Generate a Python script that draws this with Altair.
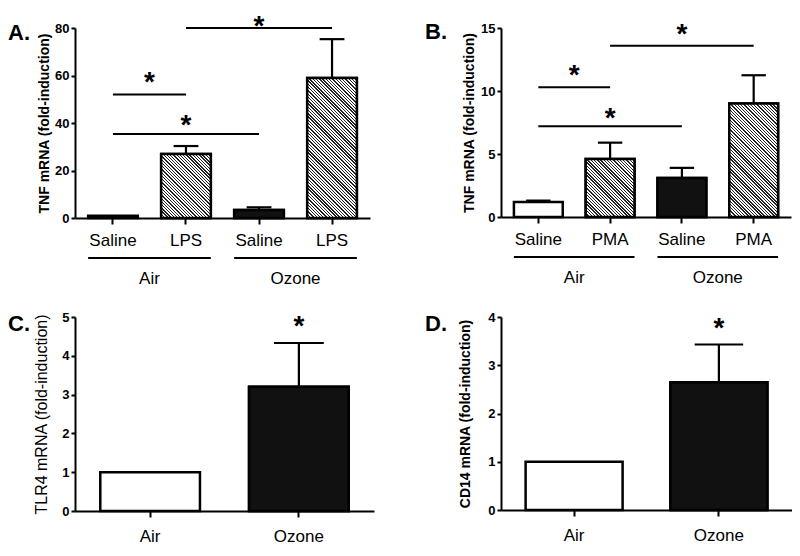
import math
import altair as alt
import pandas as pd

FONT = "Liberation Sans"

# ---------------- data ----------------
# Panel A
a_groups = ["Air", "Air", "Ozone", "Ozone"]
a_treats = ["Saline", "LPS", "Saline", "LPS"]
a_values = [1.0, 26.9, 3.4, 59.0]
a_errors = [0.0, 3.4, 1.1, 16.3]
a_fills = ["white", "hatch", "black", "hatch"]
a_sig_from = ["Air Saline", "Air Saline", "Air LPS"]
a_sig_to = ["Air LPS", "Ozone Saline", "Ozone LPS"]
a_sig_y = [52.0, 35.4, 80.0]
a_star_y = [60.1, 41.9, 83.8]
a_ticks = [0, 20, 40, 60, 80]

# Panel B
b_groups = ["Air", "Air", "Ozone", "Ozone"]
b_treats = ["Saline", "PMA", "Saline", "PMA"]
b_values = [1.2, 4.6, 3.1, 9.0]
b_errors = [0.1, 1.3, 0.8, 2.25]
b_fills = ["white", "hatch", "black", "hatch"]
b_sig_from = ["Air Saline", "Air Saline", "Air PMA"]
b_sig_to = ["Air PMA", "Ozone Saline", "Ozone PMA"]
b_sig_y = [10.3, 7.2, 13.6]
b_star_y = [11.85, 8.45, 15.1]
b_ticks = [0, 5, 10, 15]

# Panel C
c_cats = ["Air", "Ozone"]
c_values = [1.0, 3.2]
c_errors = [0.0, 1.13]
c_fills = ["white", "black"]
c_star_cat = ["Ozone"]
c_star_y = [4.95]
c_ticks = [0, 1, 2, 3, 4, 5]

# Panel D
d_cats = ["Air", "Ozone"]
d_values = [1.0, 2.65]
d_errors = [0.0, 0.78]
d_fills = ["white", "black"]
d_star_cat = ["Ozone"]
d_star_y = [3.92]
d_ticks = [0, 1, 2, 3, 4]


def hatch_gradient(w, h, period=2.3, dark_frac=0.42, dark="#222222", light="#ffffff"):
    """Diagonal (\\) stripes via a linear gradient in bounding-box units."""
    s = (w + h) / (w * w + h * h)
    beta = h * s
    a = w * s
    n = max(1, int(round((w + h) / math.sqrt(2) / period)))
    stops = []
    for k in range(n):
        o0 = k / n
        o1 = (k + dark_frac) / n
        o2 = (k + 1) / n
        stops += [
            alt.GradientStop(color=dark, offset=round(o0, 5)),
            alt.GradientStop(color=dark, offset=round(o1, 5)),
            alt.GradientStop(color=light, offset=round(o1, 5)),
            alt.GradientStop(color=light, offset=round(o2, 5)),
        ]
    return alt.LinearGradient(gradient="linear", stops=stops, x1=0, y1=1, x2=a, y2=1 - beta)


def panel(letter, letter_x, letter_y, cats, labels_expr, values, errors, fills,
          ymax, yticks, ytitle, title_size, title_weight, title_pad,
          W, H, pi, po, xlabel_pad,
          sig_from=(), sig_to=(), sig_y=(), star_x=(), star_y=(),
          groups=None, star_size=28):
    n = len(cats)
    step = W / (n - pi + 2 * po)
    bw = step * (1 - pi)
    c0 = po + (1 - pi) / 2
    band = alt.Scale(domain=cats, paddingInner=pi, paddingOuter=po)
    lin = alt.Scale(domain=[-c0, n - 1 + c0], nice=False, zero=False)
    ysc = alt.Scale(domain=[0, ymax], nice=False, zero=True)
    idx = {c: i for i, c in enumerate(cats)}

    df = pd.DataFrame({"cat": cats, "v": values, "e": errors, "f": fills, "i": list(range(n))})
    df["top"] = df["v"] + df["e"]
    cap = (1 - pi) / 4
    df["cl"] = df["i"] - cap
    df["cr"] = df["i"] + cap

    xaxis_kw = dict(title=None, labelFontSize=17, labelFontWeight="normal", labelAngle=0,
                    tickSize=6, labelPadding=xlabel_pad, labelOverlap=False, domainWidth=2)
    if labels_expr:
        xaxis_kw["labelExpr"] = labels_expr
    xaxis = alt.Axis(**xaxis_kw)
    yaxis = alt.Axis(values=yticks, title=ytitle, labelFontSize=13, labelFontWeight="bold",
                     tickSize=4, labelPadding=2, titleFontSize=title_size,
                     titleFontWeight=title_weight, titlePadding=title_pad, labelOverlap=False,
                     domainWidth=2, tickWidth=2)

    def Y(field):
        return alt.Y(field, scale=ysc, axis=yaxis, title=ytitle)

    layers = []
    # all bars outlined, white fill (carries the x axis)
    layers.append(
        alt.Chart(df).mark_bar(fill="white", stroke="black", strokeWidth=2.5).encode(
            x=alt.X("cat:N", scale=band, axis=xaxis),
            y=Y("v:Q"),
        )
    )
    # black bars
    dfb = df[df["f"] == "black"]
    if len(dfb):
        layers.append(
            alt.Chart(dfb).mark_bar(fill="#111111", stroke="black", strokeWidth=2.5).encode(
                x=alt.X("cat:N", scale=band, axis=None),
                y=Y("v:Q"),
            )
        )
    # hatched bars
    for _, r in df[df["f"] == "hatch"].iterrows():
        h = r["v"] / ymax * H
        grad = hatch_gradient(bw, h)
        layers.append(
            alt.Chart(df[df["cat"] == r["cat"]]).mark_bar(fill=grad, stroke="black", strokeWidth=2.5).encode(
                x=alt.X("cat:N", scale=band, axis=None),
                y=Y("v:Q"),
            )
        )
    # error bars
    dfe = df[df["e"] > 0]
    layers.append(
        alt.Chart(dfe).mark_rule(color="black", strokeWidth=2.2).encode(
            x=alt.X("i:Q", scale=lin, axis=None),
            y=Y("v:Q"),
            y2="top:Q",
        )
    )
    layers.append(
        alt.Chart(dfe).mark_rule(color="black", strokeWidth=2.2).encode(
            x=alt.X("cl:Q", scale=lin, axis=None),
            x2="cr:Q",
            y=Y("top:Q"),
        )
    )
    # significance lines
    if len(sig_y):
        dfs = pd.DataFrame({"x1": [idx[c] for c in sig_from], "x2": [idx[c] for c in sig_to], "y": sig_y})
        layers.append(
            alt.Chart(dfs).mark_rule(color="black", strokeWidth=2).encode(
                x=alt.X("x1:Q", scale=lin, axis=None),
                x2="x2:Q",
                y=Y("y:Q"),
            )
        )
    # stars
    dst = pd.DataFrame({"x": star_x, "y": star_y, "t": ["*"] * len(star_y)})
    layers.append(
        alt.Chart(dst).mark_text(font=FONT, fontSize=star_size, fontWeight="bold", color="black",
                                 baseline="middle", align="center", dy=round(0.28 * star_size)).encode(
            x=alt.X("x:Q", scale=lin, axis=None),
            y=Y("y:Q"),
            text="t:N",
        )
    )
    # group brackets below the axis
    if groups:
        gnames, gmembers = groups
        half = (1 - pi) / 2
        lo = [min(idx[m] for m in mem) - half for mem in gmembers]
        hi = [max(idx[m] for m in mem) + half for mem in gmembers]
        dg = pd.DataFrame({"g": gnames, "lo": lo, "hi": hi,
                           "mid": [(a + b) / 2 for a, b in zip(lo, hi)]})
        layers.append(
            alt.Chart(dg).mark_rule(color="black", strokeWidth=2).encode(
                x=alt.X("lo:Q", scale=lin, axis=None),
                x2="hi:Q",
                y=alt.value(H + 40),
            )
        )
        layers.append(
            alt.Chart(dg).mark_text(font=FONT, fontSize=17, color="black", baseline="middle").encode(
                x=alt.X("mid:Q", scale=lin, axis=None),
                y=alt.value(H + 61),
                text="g:N",
            )
        )
    # panel letter
    layers.append(
        alt.Chart(pd.DataFrame({"t": [letter]})).mark_text(
            font=FONT, fontSize=22, fontWeight="bold", color="black", align="left", baseline="middle"
        ).encode(x=alt.value(letter_x), y=alt.value(letter_y), text="t:N")
    )
    return alt.layer(*layers).resolve_scale(x="independent").properties(width=W, height=H)


a_keys = [g + " " + t for g, t in zip(a_groups, a_treats)]
b_keys = [g + " " + t for g, t in zip(b_groups, b_treats)]
PI4, PO4 = 0.32, 0.18
PI2, PO2 = 0.33, 0.17


def mids(f, t):
    return [(f_ + t_) / 2 for f_, t_ in zip(f, t)]


a_idx = {c: i for i, c in enumerate(a_keys)}
b_idx = {c: i for i, c in enumerate(b_keys)}

chartA = panel("A.", -67, 5, a_keys, "split(datum.value, ' ')[1]", a_values, a_errors, a_fills,
               80, a_ticks, "TNF mRNA (fold-induction)", 14, "bold", 3,
               295, 190, PI4, PO4, 8,
               a_sig_from, a_sig_to, a_sig_y,
               mids([a_idx[c] for c in a_sig_from], [a_idx[c] for c in a_sig_to]), a_star_y,
               groups=(["Air", "Ozone"], [a_keys[:2], a_keys[2:]]))

chartB = panel("B.", -76, 4, b_keys, "split(datum.value, ' ')[1]", b_values, b_errors, b_fills,
               15, b_ticks, "TNF mRNA (fold-induction)", 14, "bold", 4,
               290, 189, PI4, PO4, 8,
               b_sig_from, b_sig_to, b_sig_y,
               mids([b_idx[c] for c in b_sig_from], [b_idx[c] for c in b_sig_to]), b_star_y,
               groups=(["Air", "Ozone"], [b_keys[:2], b_keys[2:]]))

chartC = panel("C.", -67, 7, c_cats, None, c_values, c_errors, c_fills,
               5, c_ticks, "TLR4 mRNA (fold-induction)", 16, "normal", 12,
               299, 194, PI2, PO2, 11,
               star_x=[c_cats.index(c) for c in c_star_cat], star_y=c_star_y)

chartD = panel("D.", -76, 7, d_cats, None, d_values, d_errors, d_fills,
               4, d_ticks, "CD14 mRNA (fold-induction)", 14, "bold", 15,
               291, 193, PI2, PO2, 11,
               star_x=[d_cats.index(c) for c in d_star_cat], star_y=d_star_y)

chart = alt.concat(
    chartA, chartB, chartC, chartD,
    columns=2, spacing={"row": 99, "column": 127}, bounds="flush", align="each",
).properties(padding={"top": 4, "left": 0, "right": 0, "bottom": 0}).configure_view(stroke=None).configure_axis(
    domainColor="black", domainWidth=2, tickColor="black", tickWidth=2,
    labelColor="black", titleColor="black", labelFont=FONT, titleFont=FONT, grid=False,
)

chart.save("out.html", embed_options={"renderer": "svg", "actions": False})
